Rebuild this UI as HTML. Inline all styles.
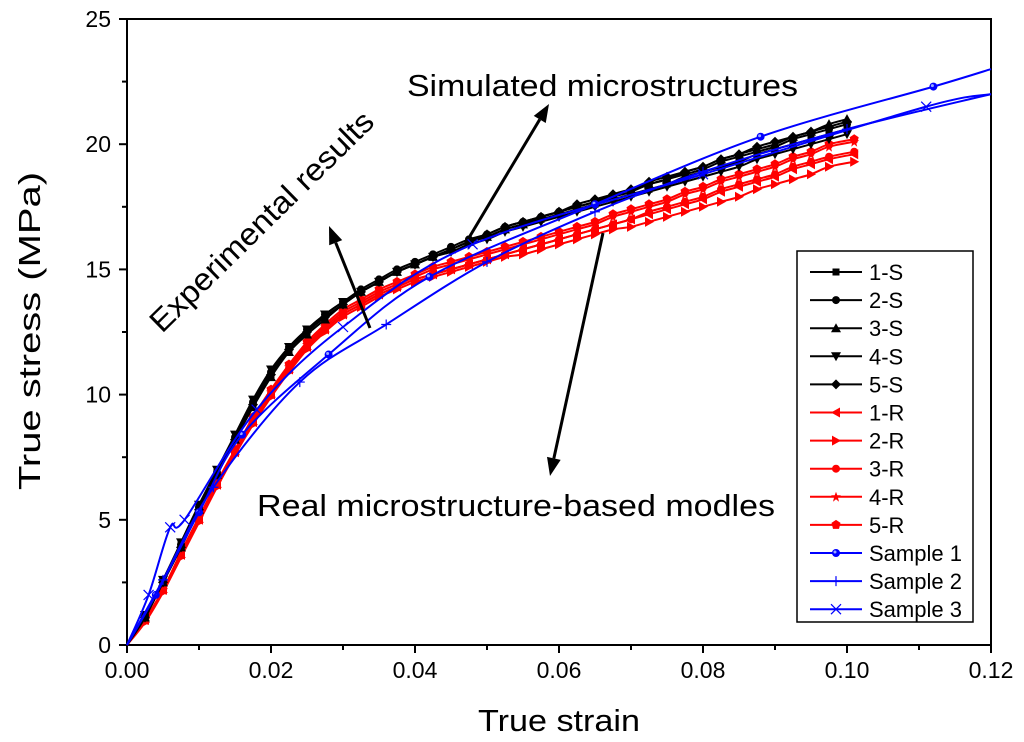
<!DOCTYPE html>
<html><head><meta charset="utf-8"><style>
body{margin:0;background:#fff}
svg{display:block;font-family:"Liberation Sans",sans-serif}
</style></head><body>
<svg id="chart" width="1024" height="742" viewBox="0 0 1024 742"></svg>
<script>
const strainS = [0,0.0025,0.005,0.0075,0.01,0.0125,0.015,0.0175,0.02,0.0225,0.025,0.0275,0.03,0.0325,0.035,0.0375,0.04,0.0425,0.045,0.0475,0.05,0.0525,0.055,0.0575,0.06,0.0625,0.065,0.0675,0.07,0.0725,0.075,0.0775,0.08,0.0825,0.085,0.0875,0.09,0.0925,0.095,0.0975,0.1];
const strainR = [0,0.0025,0.005,0.0075,0.01,0.0125,0.015,0.0175,0.02,0.0225,0.025,0.0275,0.03,0.0325,0.035,0.0375,0.04,0.0425,0.045,0.0475,0.05,0.0525,0.055,0.0575,0.06,0.0625,0.065,0.0675,0.07,0.0725,0.075,0.0775,0.08,0.0825,0.085,0.0875,0.09,0.0925,0.095,0.0975,0.101];
const s1 = [0,1.2,2.6,4.0,5.5,6.9,8.2,9.6,10.8,11.8,12.5,13.1,13.6,14.1,14.5,14.9,15.2,15.5,15.8,16.1,16.3,16.6,16.8,17.0,17.2,17.4,17.6,17.8,18.0,18.2,18.4,18.7,18.9,19.1,19.3,19.6,19.8,20.0,20.2,20.4,20.6];
const s2 = [0,1.2,2.6,4.0,5.5,6.9,8.3,9.7,10.9,11.9,12.6,13.2,13.7,14.2,14.6,15.0,15.3,15.6,15.9,16.2,16.4,16.7,16.9,17.1,17.3,17.5,17.7,17.9,18.1,18.4,18.6,18.8,19.0,19.3,19.5,19.7,19.9,20.2,20.4,20.6,20.8];
const s3 = [0,1.1,2.5,3.9,5.4,6.8,8.2,9.5,10.7,11.7,12.4,13.0,13.6,14.1,14.5,14.9,15.2,15.5,15.8,16.1,16.3,16.6,16.8,17.1,17.3,17.5,17.7,18.0,18.2,18.4,18.6,18.9,19.1,19.4,19.6,19.8,20.0,20.3,20.5,20.8,21.0];
const s4 = [0,1.2,2.6,4.1,5.6,7.0,8.4,9.8,11.0,11.9,12.6,13.2,13.7,14.1,14.5,14.9,15.2,15.5,15.7,16.0,16.2,16.5,16.7,16.9,17.1,17.3,17.5,17.7,17.9,18.1,18.3,18.5,18.7,18.9,19.1,19.4,19.6,19.8,20.0,20.2,20.4];
const s5 = [0,1.1,2.5,3.9,5.4,6.8,8.2,9.6,10.8,11.8,12.5,13.1,13.6,14.1,14.5,14.9,15.2,15.5,15.8,16.1,16.4,16.7,16.9,17.1,17.3,17.6,17.8,18.0,18.2,18.5,18.7,18.9,19.1,19.4,19.6,19.9,20.1,20.3,20.5,20.7,20.9];
const r1 = [0,1.0,2.2,3.6,5.0,6.4,7.7,8.9,10.0,11.0,11.9,12.6,13.2,13.6,14.0,14.3,14.6,14.8,15.0,15.2,15.4,15.6,15.8,16.0,16.2,16.4,16.6,16.8,17.0,17.2,17.4,17.6,17.8,18.1,18.3,18.5,18.7,19.0,19.2,19.4,19.6];
const r2 = [0,0.9,2.1,3.5,4.9,6.3,7.6,8.8,9.9,10.9,11.8,12.5,13.1,13.5,13.9,14.2,14.5,14.7,14.9,15.1,15.3,15.5,15.6,15.8,16.0,16.2,16.4,16.6,16.7,16.9,17.1,17.3,17.5,17.7,17.9,18.2,18.4,18.6,18.8,19.1,19.3];
const r3 = [0,1.0,2.2,3.6,5.0,6.4,7.7,8.9,10.0,11.0,11.9,12.6,13.2,13.6,14.0,14.3,14.6,14.8,15.0,15.2,15.4,15.6,15.8,16.0,16.2,16.4,16.6,16.8,17.0,17.3,17.5,17.7,17.9,18.2,18.4,18.6,18.8,19.1,19.3,19.5,19.7];
const r4 = [0,1.0,2.2,3.7,5.1,6.5,7.8,9.0,10.1,11.1,12.0,12.7,13.3,13.7,14.1,14.4,14.7,15.0,15.2,15.4,15.6,15.8,16.0,16.2,16.4,16.6,16.8,17.1,17.3,17.5,17.7,18.0,18.2,18.5,18.7,18.9,19.1,19.4,19.6,19.9,20.1];
const r5 = [0,1.0,2.2,3.7,5.1,6.5,7.8,9.1,10.2,11.2,12.1,12.8,13.4,13.8,14.2,14.5,14.8,15.1,15.3,15.5,15.7,15.9,16.1,16.3,16.5,16.7,16.9,17.2,17.4,17.6,17.8,18.1,18.3,18.6,18.8,19.0,19.2,19.5,19.7,20.0,20.2];
const exp1X = [0,0.004,0.01,0.016,0.028,0.042,0.065,0.088,0.112,0.12];
const exp1Y = [0,2.0,5.3,8.4,11.6,14.7,17.6,20.3,22.3,23.0];
const exp2X = [0,0.005,0.012,0.024,0.036,0.05,0.065,0.08,0.1,0.12];
const exp2Y = [0,2.6,6.3,10.5,12.8,15.3,17.3,18.9,20.6,22.0];
const exp3X = [0,0.003,0.006,0.008,0.018,0.03,0.048,0.08,0.111,0.12];
const exp3Y = [0,2.0,4.7,5.0,9.4,12.7,16.0,18.8,21.5,22.0];
const xTicks = ["0.00","0.02","0.04","0.06","0.08","0.10","0.12"];
const yTicks = ["0","5","10","15","20","25"];

const NS="http://www.w3.org/2000/svg", svg=document.getElementById('chart');
const L=127,R=991,T=19,B=645;
const X=v=>L+(v/0.12)*(R-L), Y=v=>B-(v/25)*(B-T);
function el(tag,attrs,parent){const e=document.createElementNS(NS,tag);for(const k in attrs)e.setAttribute(k,attrs[k]);(parent||svg).appendChild(e);return e;}
function smooth(pts){let d=`M${pts[0][0]},${pts[0][1]}`;for(let i=0;i<pts.length-1;i++){const p0=pts[i-1]||pts[i],p1=pts[i],p2=pts[i+1],p3=pts[i+2]||p2;
d+=` C${p1[0]+(p2[0]-p0[0])/6},${p1[1]+(p2[1]-p0[1])/6} ${p2[0]-(p3[0]-p1[0])/6},${p2[1]-(p3[1]-p1[1])/6} ${p2[0]},${p2[1]}`;}return d;}
function marker(g,type,x,y,c){
  if(type==='square')el('rect',{x:x-3.5,y:y-3.5,width:7,height:7,fill:c},g);
  else if(type==='circle')el('circle',{cx:x,cy:y,r:4,fill:c},g);
  else if(type==='up')el('polygon',{points:`${x},${y-5} ${x-5},${y+4} ${x+5},${y+4}`,fill:c},g);
  else if(type==='down')el('polygon',{points:`${x},${y+5} ${x-5},${y-4} ${x+5},${y-4}`,fill:c},g);
  else if(type==='diamond')el('polygon',{points:`${x},${y-5} ${x+5},${y} ${x},${y+5} ${x-5},${y}`,fill:c},g);
  else if(type==='left')el('polygon',{points:`${x-5},${y} ${x+4},${y-5} ${x+4},${y+5}`,fill:c},g);
  else if(type==='right')el('polygon',{points:`${x+5},${y} ${x-4},${y-5} ${x-4},${y+5}`,fill:c},g);
  else if(type==='hex')el('polygon',{points:`${x},${y-5} ${x+4.5},${y-2} ${x+3},${y+4} ${x-3},${y+4} ${x-4.5},${y-2}`,fill:c},g);
  else if(type==='star')el('polygon',{points:`${x},${y-5} ${x+1.3},${y-1.5} ${x+5},${y-1.5} ${x+2},${y+1} ${x+3},${y+5} ${x},${y+2.5} ${x-3},${y+5} ${x-2},${y+1} ${x-5},${y-1.5} ${x-1.3},${y-1.5}`,fill:c},g);
  else if(type==='ball'){el('circle',{cx:x,cy:y,r:4,fill:c},g);el('circle',{cx:x-1,cy:y-1,r:1.5,fill:'#9af'},g);}
  else if(type==='plus')el('path',{d:`M${x-5},${y}H${x+5}M${x},${y-5}V${y+5}`,stroke:c,'stroke-width':1.2},g);
  else if(type==='cross')el('path',{d:`M${x-5},${y-5}L${x+5},${y+5}M${x+5},${y-5}L${x-5},${y+5}`,stroke:c,'stroke-width':1.2},g);
}
const frame=el('rect',{x:L,y:T,width:R-L,height:B-T,fill:'none',stroke:'#000','stroke-width':2});


xTicks.forEach((t,i)=>{const v=+t,x=X(v);
  el('line',{x1:x,y1:B,x2:x,y2:B+8,stroke:'#000','stroke-width':2});
  if(i<xTicks.length-1){const xm=X(v+0.01);el('line',{x1:xm,y1:B,x2:xm,y2:B+5,stroke:'#000','stroke-width':2});}
  const tx=el('text',{x:x,y:B+33,'font-size':23,'text-anchor':'middle'});tx.textContent=t;
  
  
});
yTicks.forEach((t,i)=>{const v=+t,y=Y(v);
  el('line',{x1:L-8,y1:y,x2:L,y2:y,stroke:'#000','stroke-width':2});
  if(i<yTicks.length-1){const ym=Y(v+2.5);el('line',{x1:L-5,y1:ym,x2:L,y2:ym,stroke:'#000','stroke-width':2});}
  const tx=el('text',{x:L-16,y:y+8,'font-size':23,'text-anchor':'end'});tx.textContent=t;
  
  
});
const xl=el('text',{x:478,y:731,'font-size':31,textLength:162,lengthAdjust:'spacingAndGlyphs'});xl.textContent='True strain';


const yl=el('text',{x:0,y:0,'font-size':31,textLength:318,lengthAdjust:'spacingAndGlyphs',transform:'translate(40,490) rotate(-90)'});yl.textContent='True stress (MPa)';



const series=[
 ['1-S',strainS,s1,'#000','square'],['2-S',strainS,s2,'#000','circle'],['3-S',strainS,s3,'#000','up'],['4-S',strainS,s4,'#000','down'],['5-S',strainS,s5,'#000','diamond'],
 ['1-R',strainR,r1,'#f00','left'],['2-R',strainR,r2,'#f00','right'],['3-R',strainR,r3,'#f00','circle'],['4-R',strainR,r4,'#f00','star'],['5-R',strainR,r5,'#f00','hex'],
 ['Sample 1',exp1X,exp1Y,'#00f','ball'],['Sample 2',exp2X,exp2Y,'#00f','plus'],['Sample 3',exp3X,exp3Y,'#00f','cross']];
const order=[5,6,7,8,9,0,1,2,3,4,10,11,12];
order.forEach(i=>{const [name,xs,ys,c,mk]=series[i];
  const g=el('g',{});
  
  
  const pts=xs.map((x,j)=>[X(x),Y(ys[j])]);
  el('path',{d:smooth(pts),fill:'none',stroke:c,'stroke-width':2},g);
  pts.forEach((p,j)=>{if(j===0)return;if(c==='#00f'&&j===pts.length-1)return;marker(g,mk,p[0],p[1],c);});
});
function arrow(x1,y1,x2,y2,name){const g=el('g',{});
  
  
  const a=Math.atan2(y2-y1,x2-x1),h=18,w=7;
  const bx=x2-h*Math.cos(a),by=y2-h*Math.sin(a);
  el('line',{x1,y1,x2:bx,y2:by,stroke:'#000','stroke-width':3},g);
  el('polygon',{points:`${x2},${y2} ${bx+w*Math.sin(a)},${by-w*Math.cos(a)} ${bx-w*Math.sin(a)},${by+w*Math.cos(a)}`,fill:'#000'},g);}
arrow(470,236,549,104,'arrow-simulated');
arrow(370,328,329,226,'arrow-experimental');
arrow(603,233,550,476,'arrow-real');
function label(txt,x,y,len,name,tr){const t=el('text',{x,y,'font-size':31,textLength:len,lengthAdjust:'spacingAndGlyphs'});if(tr)t.setAttribute('transform',tr);t.textContent=txt;
  
  }
label('Simulated microstructures',407,96,391,'annotation-simulated');
label('Real microstructure-based modles',257,516,518,'annotation-real');
label('Experimental results',0,0,300,'annotation-experimental','translate(162,334) rotate(-44.5)');
const lg=el('g',{});


el('rect',{x:797,y:251,width:176,height:371,fill:'#fff',stroke:'#000','stroke-width':1.5},lg);
series.forEach((s,i)=>{const y=272+i*28.1;const g=el('g',{},lg);
  
  
  el('line',{x1:810,y1:y,x2:862,y2:y,stroke:s[3],'stroke-width':2},g);
  marker(g,s[4],836,y,s[3]);
  const t=el('text',{x:869,y:y+8,'font-size':22},g);t.textContent=s[0];});
</script>
</body></html>
